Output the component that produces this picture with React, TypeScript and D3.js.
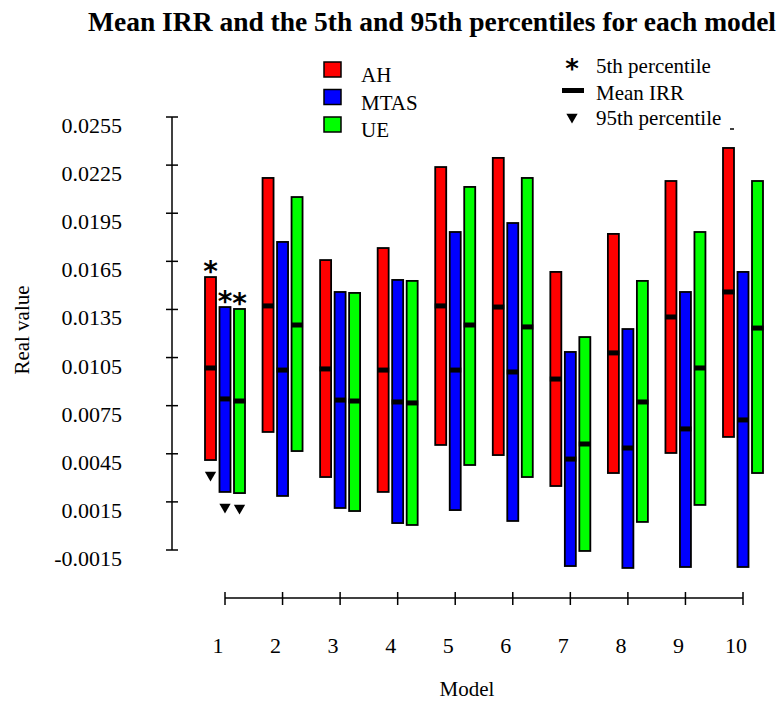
import React from "react";
import * as d3 from "d3";

// values (p5 = top of bar, p95 = bottom of bar)
const models = ["1", "2", "3", "4", "5", "6", "7", "8", "9", "10"];
const seriesNames = ["AH", "MTAS", "UE"];
const seriesColors = ["#ff0000", "#0000ff", "#00ff00"];

const ahP5 = [0.01552, 0.0217, 0.01658, 0.01733, 0.02238, 0.02295, 0.01584, 0.01821, 0.02151, 0.02357];
const ahMean = [0.00985, 0.01372, 0.00979, 0.00972, 0.01372, 0.01365, 0.00916, 0.01079, 0.01303, 0.01459];
const ahP95 = [0.00411, 0.00586, 0.00305, 0.00212, 0.00505, 0.00442, 0.00249, 0.0033, 0.00455, 0.00555];

const mtasP5 = [0.01365, 0.01771, 0.01459, 0.01534, 0.01833, 0.01889, 0.01085, 0.01228, 0.01459, 0.01584];
const mtasMean = [0.00792, 0.00972, 0.00785, 0.00773, 0.00972, 0.0096, 0.00417, 0.00486, 0.00605, 0.00661];
const mtasP95 = [0.00212, 0.00187, 0.00112, 0.00018, 0.00099, 0.00031, -0.0025, -0.00262, -0.00256, -0.00256];

const ueP5 = [0.01353, 0.02051, 0.01453, 0.01528, 0.02114, 0.0217, 0.01178, 0.01528, 0.01833, 0.02151];
const ueMean = [0.00779, 0.01253, 0.00779, 0.00767, 0.01253, 0.01241, 0.00511, 0.00773, 0.00985, 0.01234];
const ueP95 = [0.00205, 0.00467, 0.00093, 0.00006, 0.0038, 0.00305, -0.00156, 0.00025, 0.00131, 0.0033];

const yTicks = [0.0255, 0.0225, 0.0195, 0.0165, 0.0135, 0.0105, 0.0075, 0.0045, 0.0015, -0.0015];

const FONT = '"Liberation Serif", "Times New Roman", "DejaVu Serif", serif';
const SANS = '"DejaVu Sans", sans-serif';

export default function App() {
  const width = 784;
  const height = 702;

  const y = d3.scaleLinear().domain([-0.0015, 0.0255]).range([550, 117]);
  const x = d3.scalePoint().domain(models).range([225, 743]);
  const offset = d3.scalePoint().domain(seriesNames).range([-14.5, 14.5]);

  const series = [
    { name: "AH", p5: ahP5, mean: ahMean, p95: ahP95 },
    { name: "MTAS", p5: mtasP5, mean: mtasMean, p95: mtasP95 },
    { name: "UE", p5: ueP5, mean: ueMean, p95: ueP95 },
  ];

  const barW = 11;
  const tri = d3.symbol().type(d3.symbolTriangle).size(55)();

  return (
    <svg
      width={width}
      height={height}
      style={{ position: "absolute", left: 0, top: 0, background: "#fff", fontFamily: FONT }}
    >
      {/* title */}
      <text x={432} y={31} textAnchor="middle" style={{ fontFamily: FONT, fontWeight: "bold", fontSize: 27.5 }}>
        Mean IRR and the 5th and 95th percentiles for each model
      </text>

      {/* y axis */}
      <line x1={172} x2={172} y1={y(0.0255)} y2={y(-0.0015)} stroke="#000" strokeWidth={1.5} />
      {yTicks.map((t) => (
        <g key={t}>
          <line x1={166} x2={178} y1={y(t)} y2={y(t)} stroke="#000" strokeWidth={1.5} />
          <text x={122} y={y(t) + 16} textAnchor="end" style={{ fontFamily: FONT, fontSize: 22 }}>
            {t.toFixed(4)}
          </text>
        </g>
      ))}
      <text transform="translate(29,330) rotate(-90)" textAnchor="middle" style={{ fontFamily: FONT, fontSize: 21 }}>
        Real value
      </text>

      {/* x axis */}
      <line x1={x("1")} x2={x("10")} y1={598} y2={598} stroke="#000" strokeWidth={1.5} />
      {models.map((m) => (
        <g key={m}>
          <line x1={x(m)} x2={x(m)} y1={592} y2={605} stroke="#000" strokeWidth={1.5} />
          <text x={(x(m) as number) - 7} y={653} textAnchor="middle" style={{ fontFamily: FONT, fontSize: 22 }}>
            {m}
          </text>
        </g>
      ))}
      <text x={467} y={696} textAnchor="middle" style={{ fontFamily: FONT, fontSize: 21 }}>
        Model
      </text>

      {/* bars */}
      {series.map((s, si) => (
        <g key={s.name}>
          {models.map((m, i) => {
            const cx = (x(m) as number) + (offset(s.name) as number);
            const top = y(s.p5[i]);
            const bot = y(s.p95[i]);
            return (
              <g key={m}>
                <rect
                  x={cx - barW / 2}
                  y={top}
                  width={barW}
                  height={bot - top}
                  fill={seriesColors[si]}
                  stroke="#000"
                  strokeWidth={1.8}
                />
                <rect x={cx - barW / 2 - 0.5} y={y(s.mean[i]) - 2.5} width={barW + 1} height={5} fill="#000" />
              </g>
            );
          })}
        </g>
      ))}

      {/* percentile markers for model 1 */}
      {series.map((s) => {
        const cx = (x("1") as number) + (offset(s.name) as number);
        return (
          <g key={s.name}>
            <text x={cx} y={y(s.p5[0]) + 4} textAnchor="middle" style={{ fontFamily: SANS, fontWeight: "bold", fontSize: 28 }}>
              *
            </text>
            <path d={tri} transform={`translate(${cx},${y(s.p95[0]) + 15}) rotate(180)`} fill="#000" />
          </g>
        );
      })}

      {/* series legend */}
      {seriesNames.map((n, i) => (
        <g key={n}>
          <rect x={324} y={62 + i * 27.5} width={17} height={15} fill={seriesColors[i]} stroke="#000" strokeWidth={1.5} />
          <text x={361} y={82 + i * 27.5} style={{ fontFamily: FONT, fontSize: 21 }}>
            {n}
          </text>
        </g>
      ))}

      {/* marker legend */}
      <text x={572} y={78} textAnchor="middle" style={{ fontFamily: SANS, fontWeight: "bold", fontSize: 26 }}>
        *
      </text>
      <text x={596} y={73} style={{ fontFamily: FONT, fontSize: 21 }}>
        5th percentile
      </text>
      <rect x={562} y={88} width={22} height={5} fill="#000" />
      <text x={596} y={100} style={{ fontFamily: FONT, fontSize: 21 }}>
        Mean IRR
      </text>
      <path d={tri} transform="translate(572,117) rotate(180)" fill="#000" />
      <text x={596} y={125} style={{ fontFamily: FONT, fontSize: 21 }}>
        95th percentile
      </text>
      <line x1={730} x2={734} y1={129} y2={129} stroke="#000" strokeWidth={1.5} />
    </svg>
  );
}
